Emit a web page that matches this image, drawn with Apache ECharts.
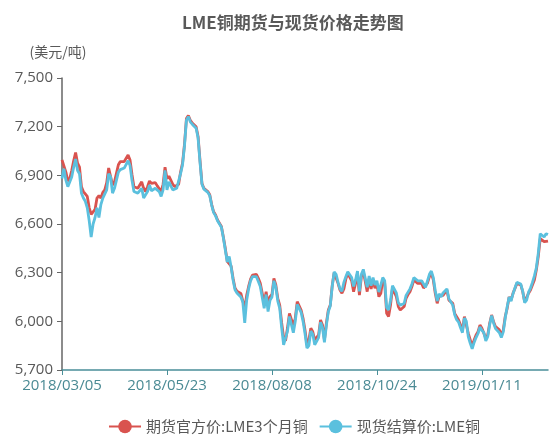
<!DOCTYPE html>
<html>
<head>
<meta charset="utf-8">
<script src="https://cdn.jsdelivr.net/npm/echarts@6/dist/echarts.min.js"></script>
<style>html,body{margin:0;padding:0;background:#fff}#c{width:550px;height:441px}</style>
</head>
<body>
<div id="c"></div>
<script>
// Trading-day categories (LME calendar, weekdays without UK holidays)
var startDate = '2018-03-05';
var dayCount = 251;
var holidays = ['2018-03-30','2018-04-02','2018-05-07','2018-05-28','2018-08-27','2018-12-25','2018-12-26','2019-01-01'];

var yTicks = [5700, 6000, 6300, 6600, 6900, 7200, 7500];

var futures = [
6995,6985,6920,6865,6880,6930,6990,7040,6975,6950,
6830,6800,6790,6770,6700,6660,6670,6690,6760,6775,
6760,6795,6810,6855,6945,6935,6840,6860,6870,6965,
6985,6985,6985,6975,7025,6995,6905,6830,6820,6820,
6825,6860,6820,6800,6830,6865,6850,6860,6855,6835,
6840,6800,6845,6950,6880,6895,6900,6845,6830,6835,
6845,6920,6975,7090,7250,7268,7240,7222,7212,7200,
7140,6990,6850,6820,6810,6800,6780,6720,6675,6655,
6625,6605,6585,6520,6450,6370,6380,6340,6265,6205,
6185,6180,6172,6160,6080,6160,6215,6260,6285,6290,
6290,6265,6234,6225,6111,6183,6101,6152,6165,6265,
6224,6142,6100,5990,5900,5880,5960,6049,6039,5975,
6019,6121,6111,6070,6019,5947,5854,5885,5957,5936,
5885,5875,5916,6008,5978,5885,5988,6070,6100,6220,
6300,6290,6234,6193,6173,6200,6260,6296,6306,6250,
6183,6234,6296,6162,6275,6306,6245,6183,6265,6200,
6255,6204,6234,6152,6173,6255,6234,6049,6029,6101,
6204,6193,6152,6091,6070,6080,6091,6142,6165,6183,
6214,6255,6245,6234,6224,6234,6205,6193,6235,6275,
6296,6255,6173,6111,6155,6145,6160,6170,6193,6131,
6120,6111,6049,6029,6008,5977,5947,6029,6018,5926,
5885,5844,5885,5916,5936,5977,5957,5947,5895,5916,
5988,6039,5998,5967,5957,5947,5916,5947,6030,6080,
6150,6131,6173,6203,6234,6245,6224,6183,6121,6131,
6173,6193,6224,6255,6316,6399,6510,6500,6491,6501,
6495
];

var spot = [
6880,6940,6870,6830,6840,6890,6950,7000,6930,6910,
6790,6760,6740,6700,6620,6520,6600,6640,6700,6640,
6720,6760,6750,6810,6910,6890,6790,6820,6830,6920,
6935,6940,6945,6940,6990,6960,6870,6800,6790,6790,
6795,6820,6760,6780,6800,6840,6805,6810,6820,6810,
6800,6770,6810,6930,6810,6860,6870,6810,6810,6820,
6830,6910,6965,7080,7240,7262,7230,7215,7205,7190,
7130,6980,6845,6815,6805,6795,6775,6715,6670,6650,
6620,6600,6580,6515,6440,6365,6400,6335,6255,6195,
6175,6165,6150,6120,5990,6130,6200,6250,6275,6280,
6275,6245,6215,6205,6080,6165,6060,6130,6150,6250,
6210,6125,6080,5960,5855,5855,5940,6030,6025,5930,
6000,6105,6100,6055,6000,5925,5835,5850,5940,5920,
5855,5860,5900,5995,5960,5870,5975,6060,6095,6215,
6305,6290,6240,6200,6185,6240,6275,6305,6315,6270,
6215,6255,6310,6185,6290,6320,6265,6210,6280,6220,
6270,6225,6250,6180,6190,6270,6250,6085,6070,6130,
6220,6210,6175,6115,6100,6105,6110,6160,6180,6200,
6230,6270,6260,6250,6240,6250,6230,6210,6250,6290,
6310,6270,6190,6125,6170,6150,6175,6180,6200,6140,
6120,6100,6040,6010,5995,5960,5930,6020,6000,5905,
5865,5830,5870,5900,5925,5965,5945,5930,5880,5905,
5980,6035,5990,5955,5945,5930,5900,5935,6020,6090,
6150,6125,6170,6205,6240,6250,6230,6185,6115,6130,
6180,6205,6240,6280,6330,6420,6540,6545,6520,6540,
6535
];

function pad(n){return (n<10?'0':'')+n;}
function buildDates(start, count, hol){
  var out = [];
  var d = new Date(start + 'T00:00:00Z');
  while(out.length < count){
    var wd = d.getUTCDay();
    var iso = d.getUTCFullYear()+'-'+pad(d.getUTCMonth()+1)+'-'+pad(d.getUTCDate());
    if(wd !== 0 && wd !== 6 && hol.indexOf(iso) < 0){
      out.push(d.getUTCFullYear()+'/'+pad(d.getUTCMonth()+1)+'/'+pad(d.getUTCDate()));
    }
    d.setUTCDate(d.getUTCDate()+1);
  }
  return out;
}
var dates = buildDates(startDate, dayCount, holidays);

var chart = echarts.init(document.getElementById('c'), null, {renderer:'canvas'});
var textFont = '"Open Sans", "Noto Sans CJK SC", sans-serif';
chart.setOption({
  animation: false,
  backgroundColor: '#fff',
  title: {
    text: 'LME铜期货与现货价格走势图',
    left: 177, top: 9,
    textStyle: {fontSize: 17, fontWeight: 'bold', color: '#595959', fontFamily: '"Noto Sans CJK SC", sans-serif'}
  },
  legend: {
    bottom: 2, left: 103,
    itemWidth: 32, itemHeight: 17, itemGap: 11,
    textStyle: {fontSize: 15, color: '#595959', fontFamily: '"Noto Sans CJK SC", sans-serif'},
    data: ['期货官方价:LME3个月铜', '现货结算价:LME铜']
  },
  grid: {left: 62, right: 2, top: 78, bottom: 71, containLabel: false},
  xAxis: {
    type: 'category',
    data: dates,
    boundaryGap: false,
    axisLine: {lineStyle: {color: '#4a8f99', width: 1.5}},
    axisTick: {show: true, interval: 53, length: 5, lineStyle: {color: '#4a8f99'}},
    axisLabel: {interval: 53, color: '#4a8a94', fontSize: 15, margin: 8, fontFamily: textFont},
    splitLine: {show: false}
  },
  yAxis: {
    type: 'value',
    min: yTicks[0], max: yTicks[yTicks.length-1], interval: 300,
    name: '(美元/吨)',
    nameLocation: 'end',
    nameGap: 19,
    nameTextStyle: {fontSize: 14, color: '#595959', align: 'center', padding: [0, 8, 0, 0], fontFamily: '"Noto Sans CJK SC", sans-serif'},
    axisLine: {show: true, lineStyle: {color: '#666', width: 1.5}},
    axisTick: {show: true, length: 5, lineStyle: {color: '#666'}},
    axisLabel: {color: '#595959', fontSize: 15, margin: 9, fontFamily: textFont,
      formatter: function(v){ return v.toLocaleString('en-US'); }},
    splitLine: {show: false}
  },
  series: [
    {
      name: '期货官方价:LME3个月铜', type: 'line', data: futures,
      symbol: 'circle', symbolSize: 12, showSymbol: false,
      itemStyle: {color: '#d9534f'},
      lineStyle: {color: '#d9534f', width: 2.8}
    },
    {
      name: '现货结算价:LME铜', type: 'line', data: spot,
      symbol: 'circle', symbolSize: 12, showSymbol: false,
      itemStyle: {color: '#5bc0de'},
      lineStyle: {color: '#5bc0de', width: 2.8}
    }
  ]
});
</script>
</body>
</html>
